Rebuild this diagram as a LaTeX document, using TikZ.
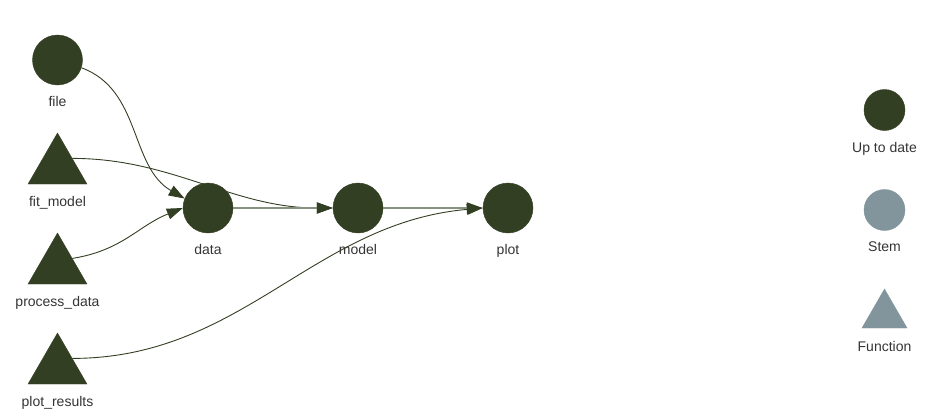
\documentclass[tikz,border=0pt]{standalone}
\usepackage{fontspec}
\setmainfont{Liberation Sans}
\usetikzlibrary{arrows.meta,shapes.geometric}
\definecolor{uptodate}{HTML}{333F22}
\definecolor{stemgrey}{HTML}{82959C}
\definecolor{edgegrey}{HTML}{879180}
\definecolor{labelgrey}{HTML}{343434}
\tikzset{
  target/.style={circle,fill=uptodate,draw=uptodate,inner sep=0pt,minimum size=50pt},
  fun/.style={regular polygon,regular polygon sides=3,fill=uptodate,draw=uptodate,inner sep=0pt,minimum size=68pt},
  lab/.style={anchor=base,text=labelgrey,font=\fontsize{14}{16}\selectfont,inner sep=0pt},
  dep/.style={draw=uptodate,line width=0.9pt,-{Triangle[length=16pt,width=11pt,color=uptodate]}},
  straight/.style={dep,draw=edgegrey,line width=1.8pt}
}
\begin{document}
\begin{tikzpicture}[x=1pt,y=-1pt]
\useasboundingbox (0,0) rectangle (929,415);
% targets
\node[target] (file) at (57.5,60) {};
\node[lab] (file-lab) at (57.5,106) {file};
\foreach \n/\t/\y in {fitmodel/fit\_model/167, processdata/process\_data/267, plotresults/plot\_results/367} % functions
{
  \node[fun] (\n) at (57.5,\y) {};
  \node[lab] (\n-lab) at (57.5,\y+39.5) {\t};
}
\foreach \n/\x in {data/208, model/358, plot/508}
{
  \node[target] (\n) at (\x,208) {};
  \node[lab] (\n-lab) at (\x,254) {\n};
}
% dependencies
\draw[dep] (file.-18) .. controls +(60,22) and +(-55,-32) .. (data.158);
\draw[dep] (fitmodel.30) .. controls +(100,0) and +(-100,0) .. (model.west);
\draw[dep] (processdata.30) .. controls +(50,-8) and +(-45,18) .. (data.west);
\draw[dep] (plotresults.30) .. controls +(170,0) and +(-170,15) .. (plot.west);
\draw[straight] (data) -- (model);
\draw[straight] (model) -- (plot);
% legend
\node[target,minimum size=41pt] (uptodate) at (884.5,110) {};
\node[lab] (uptodate-lab) at (884.5,152) {Up to date};
\node[target,minimum size=41pt,fill=stemgrey,draw=stemgrey] (stem) at (884.5,210) {};
\node[lab] (stem-lab) at (884.5,251) {Stem};
\node[fun,minimum size=52pt,fill=stemgrey,draw=stemgrey] (function) at (884.5,315) {};
\node[lab] (function-lab) at (884.5,351) {Function};
\end{tikzpicture}
\end{document}
